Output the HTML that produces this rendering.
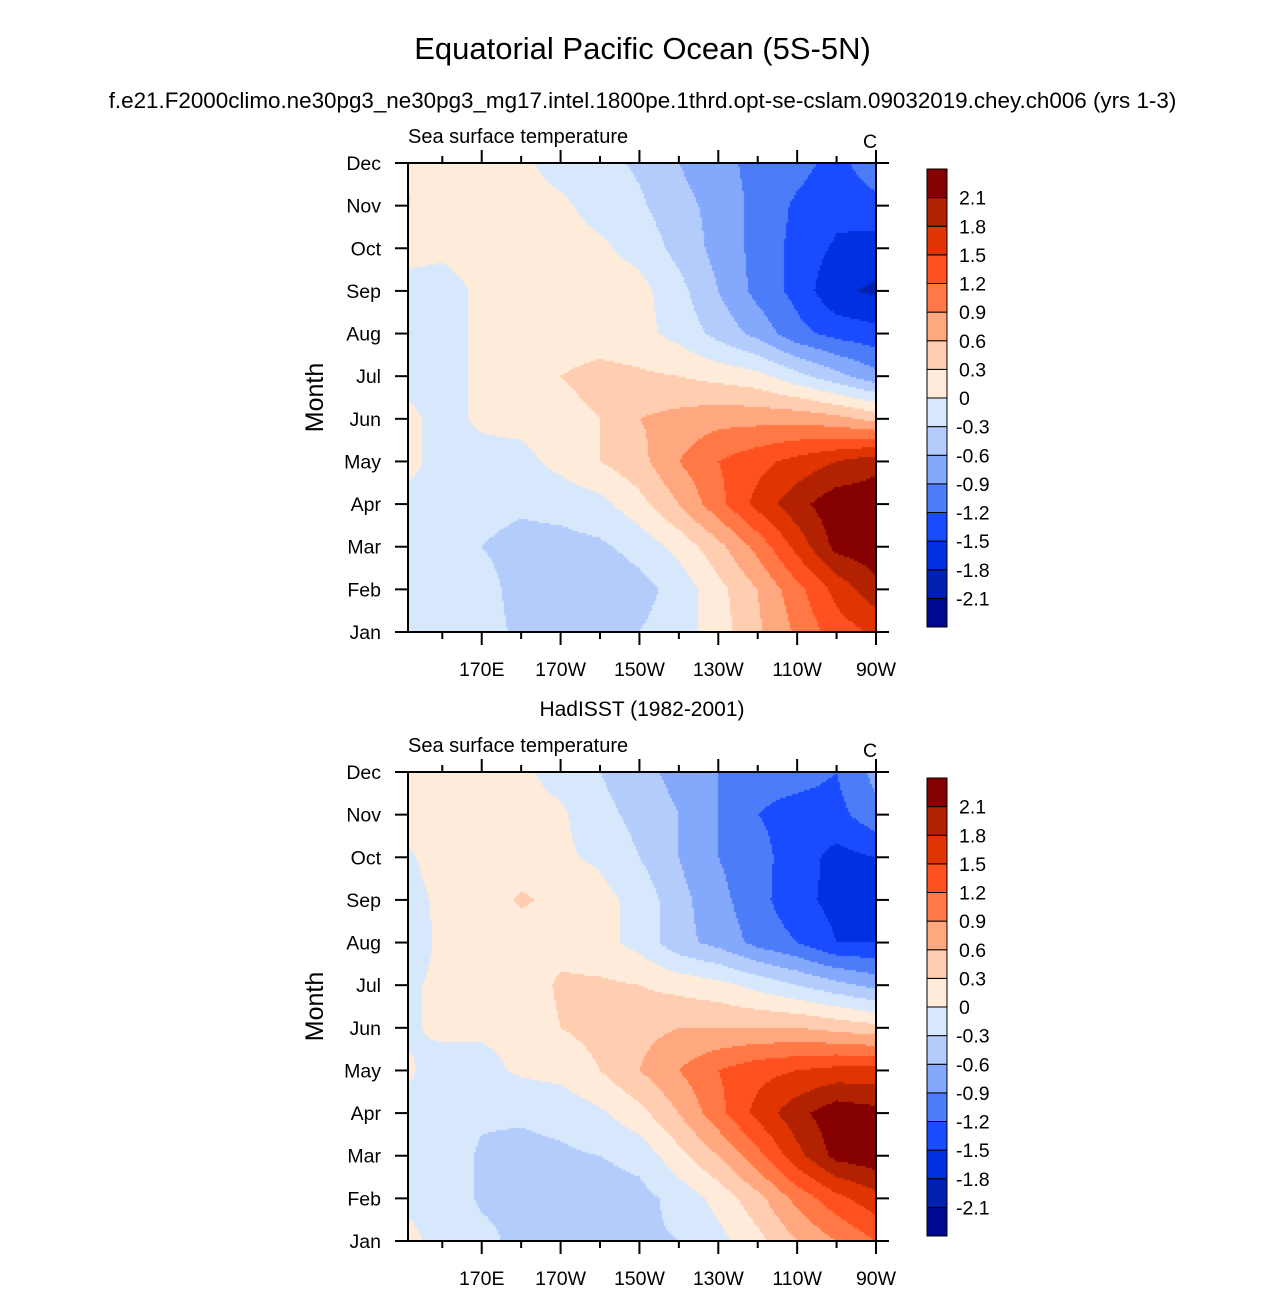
<!DOCTYPE html>
<html><head><meta charset="utf-8"><style>
body{margin:0;background:#fff;width:1285px;height:1292px;position:relative;overflow:hidden;font-family:"Liberation Sans",Arial,sans-serif;color:#000}
.t{position:absolute;white-space:nowrap}
</style></head><body>
<div class="t" style="left:0;width:1285px;text-align:center;top:31px;font-size:31px">Equatorial Pacific Ocean (5S-5N)</div>
<div class="t" style="left:0;width:1285px;text-align:center;top:88px;font-size:22.4px">f.e21.F2000climo.ne30pg3_ne30pg3_mg17.intel.1800pe.1thrd.opt-se-cslam.09032019.chey.ch006 (yrs 1-3)</div>
<div class="t" style="left:408px;width:468px;text-align:center;top:698px;font-size:21px">HadISST (1982-2001)</div>
<svg id="svg" width="1285" height="1292" style="position:absolute;left:0;top:0"></svg>
<script>
const months=["Jan","Feb","Mar","Apr","May","Jun","Jul","Aug","Sep","Oct","Nov","Dec"];
const lons=[150,160,170,180,190,200,210,220,230,240,250,260,270];
const lonTicks=[170,190,210,230,250,270];
const lonLabels=["170E","170W","150W","130W","110W","90W"];
const levels=[-2.1,-1.8,-1.5,-1.2,-0.9,-0.6,-0.3,0,0.3,0.6,0.9,1.2,1.5,1.8,2.1];
const colors=["#000890","#0020b0","#0030e0","#1a4cff","#4c7cf8","#84a8fc","#b4ccfc","#d7e8fc","#ffebda","#ffcdb0","#ffa880","#ff7845","#ff5020","#e03500","#b22200","#850000"];
const model=[
[-0.1,-0.1,-0.2,-0.35,-0.4,-0.4,-0.3,-0.15,0.15,0.55,0.95,1.35,1.55],
[-0.1,-0.1,-0.2,-0.4,-0.45,-0.5,-0.4,-0.2,0.2,0.6,1.1,1.6,2.0],
[-0.1,-0.05,-0.3,-0.4,-0.4,-0.35,-0.2,0.1,0.5,1.0,1.6,2.2,2.3],
[-0.1,-0.05,-0.2,-0.25,-0.2,-0.1,0.2,0.6,1.1,1.6,2.0,2.3,2.3],
[0.1,-0.1,-0.1,-0.1,0.1,0.3,0.5,0.9,1.2,1.4,1.6,1.8,2.0],
[0.1,-0.1,0.05,0.1,0.2,0.3,0.6,0.7,0.8,0.8,0.8,0.7,0.5],
[-0.1,-0.1,0.05,0.1,0.3,0.4,0.35,0.3,0.2,0.1,-0.2,-0.5,-0.8],
[-0.35,-0.1,0.05,0.1,0.15,0.15,0.1,-0.1,-0.4,-0.7,-1.1,-1.3,-1.4],
[-0.1,-0.1,0.05,0.1,0.15,0.15,0.1,-0.2,-0.6,-1.0,-1.3,-1.75,-1.85],
[0.1,0.05,0.1,0.1,0.1,0.05,-0.1,-0.4,-0.7,-1.0,-1.3,-1.55,-1.65],
[0.35,0.1,0.1,0.1,0.05,-0.1,-0.25,-0.5,-0.7,-1.0,-1.25,-1.4,-1.3],
[0.3,0.1,0.1,0.05,-0.1,-0.2,-0.35,-0.6,-0.8,-1.0,-1.1,-1.3,-1.0]];
const obs=[
[0.1,-0.1,-0.2,-0.4,-0.4,-0.4,-0.35,-0.3,-0.1,0.2,0.6,0.9,1.2],
[-0.05,-0.1,-0.35,-0.4,-0.45,-0.45,-0.4,-0.2,0.1,0.5,1.0,1.4,1.7],
[-0.05,-0.1,-0.35,-0.4,-0.35,-0.3,-0.2,0.2,0.6,1.1,1.7,2.2,2.3],
[-0.05,-0.1,-0.25,-0.25,-0.2,-0.05,0.2,0.6,1.1,1.6,2.0,2.3,2.2],
[0.05,-0.1,-0.1,0.05,0.1,0.3,0.6,0.9,1.2,1.4,1.5,1.6,1.6],
[-0.05,0.05,0.05,0.1,0.3,0.4,0.5,0.6,0.6,0.6,0.6,0.5,0.4],
[-0.05,0.05,0.05,0.1,0.35,0.35,0.3,0.2,0.1,-0.1,-0.3,-0.5,-0.7],
[-0.15,0.05,0.1,0.1,0.2,0.1,-0.1,-0.5,-0.7,-1.0,-1.2,-1.5,-1.5],
[-0.1,0.05,0.1,0.35,0.2,0.1,-0.1,-0.5,-0.8,-1.1,-1.4,-1.6,-1.6],
[-0.05,0.1,0.1,0.1,0.05,-0.05,-0.3,-0.6,-0.9,-1.1,-1.35,-1.6,-1.5],
[0.1,0.1,0.1,0.1,0.05,-0.2,-0.4,-0.6,-0.9,-1.2,-1.3,-1.3,-1.0],
[0.1,0.1,0.1,0.05,-0.1,-0.3,-0.5,-0.7,-0.9,-1.1,-1.1,-1.2,-0.8]];

const NS="http://www.w3.org/2000/svg";
const svg=document.getElementById('svg');
function mk(tag,attrs,parent){const e=document.createElementNS(NS,tag);for(const k in attrs)e.setAttribute(k,attrs[k]);(parent||svg).appendChild(e);return e;}
function colorFor(v){let i=0;while(i<levels.length&&v>=levels[i])i++;return colors[i];}

function panel(top,data,name){
  const L=408,R=876,T=top,B=top+469;
  const minLon=151.3,maxLon=270;
  const xOf=lon=>L+(lon-minLon)/(maxLon-minLon)*(R-L);
  const yOf=m=>B-m/11*(B-T);
  const g=mk('g',{});
  
  
  const cv=document.createElement('canvas');
  cv.width=R-L;cv.height=B-T;
  cv.style.cssText=`position:absolute;left:${L}px;top:${T}px`;
  
  
  document.body.insertBefore(cv,svg);
  const ctx=cv.getContext('2d');
  const step=2;
  for(let py=0;py<cv.height;py+=step){
    const m=(B-(T+py+step/2))/(B-T)*11;
    const mi=Math.min(10,Math.max(0,Math.floor(m)));const fm=Math.min(1,Math.max(0,m-mi));
    for(let px=0;px<cv.width;px+=step){
      const lon=minLon+(px+step/2)/(R-L)*(maxLon-minLon);
      let li=Math.floor((lon-lons[0])/10);li=Math.min(lons.length-2,Math.max(0,li));
      const fl=Math.min(1,Math.max(0,(lon-lons[li])/10));
      const v=(data[mi][li]*(1-fl)+data[mi][li+1]*fl)*(1-fm)+(data[mi+1][li]*(1-fl)+data[mi+1][li+1]*fl)*fm;
      ctx.fillStyle=colorFor(v);ctx.fillRect(px,py,step,step);
    }
  }
  mk('rect',{x:L,y:T,width:R-L,height:B-T,fill:'none',stroke:'#000','stroke-width':2},g);
  months.forEach((mn,i)=>{
    const y=yOf(i);
    mk('line',{x1:L-13,x2:L,y1:y,y2:y,stroke:'#000','stroke-width':2},g);
    mk('line',{x1:R,x2:R+13,y1:y,y2:y,stroke:'#000','stroke-width':2},g);
    const t=mk('text',{x:L-27,y:y+7,'text-anchor':'end','font-size':19.5},g);t.textContent=mn;
    
    
  });
  for(let lon=160;lon<=270;lon+=10){
    const x=xOf(lon);const major=lonTicks.includes(lon);const len=major?13:7;
    mk('line',{x1:x,x2:x,y1:B,y2:B+len,stroke:'#000','stroke-width':2},g);
    mk('line',{x1:x,x2:x,y1:T,y2:T-len,stroke:'#000','stroke-width':2},g);
  }
  lonTicks.forEach((lon,i)=>{
    const t=mk('text',{x:xOf(lon),y:B+44,'text-anchor':'middle','font-size':19.5},g);t.textContent=lonLabels[i];
    
    
  });
  const yt=mk('text',{x:0,y:0,transform:`translate(323,${(T+B)/2}) rotate(-90)`,'text-anchor':'middle','font-size':25},g);yt.textContent='Month';
  
  
  const st=mk('text',{x:408,y:T-20,'font-size':20},g);st.textContent='Sea surface temperature';
  
  
  const ut=mk('text',{x:870,y:T-15,'font-size':19.5,'text-anchor':'middle'},g);ut.textContent='C';
  
  
  const cT=T+6,cH=458,cx=927,cw=20,bh=cH/colors.length;
  colors.forEach((c,i)=>{
    const r=mk('rect',{x:cx,y:cT+cH-(i+1)*bh,width:cw,height:bh,fill:c,stroke:'#000','stroke-width':1},g);
    
    
  });
  levels.forEach((lv,i)=>{
    const t=mk('text',{x:i<7?956:959,y:cT+cH-(i+1)*bh+7,'font-size':19.5},g);t.textContent=String(lv);
    
    
  });
}
panel(163,model,'model-panel');
panel(772,obs,'hadisst-panel');
</script>
</body></html>
